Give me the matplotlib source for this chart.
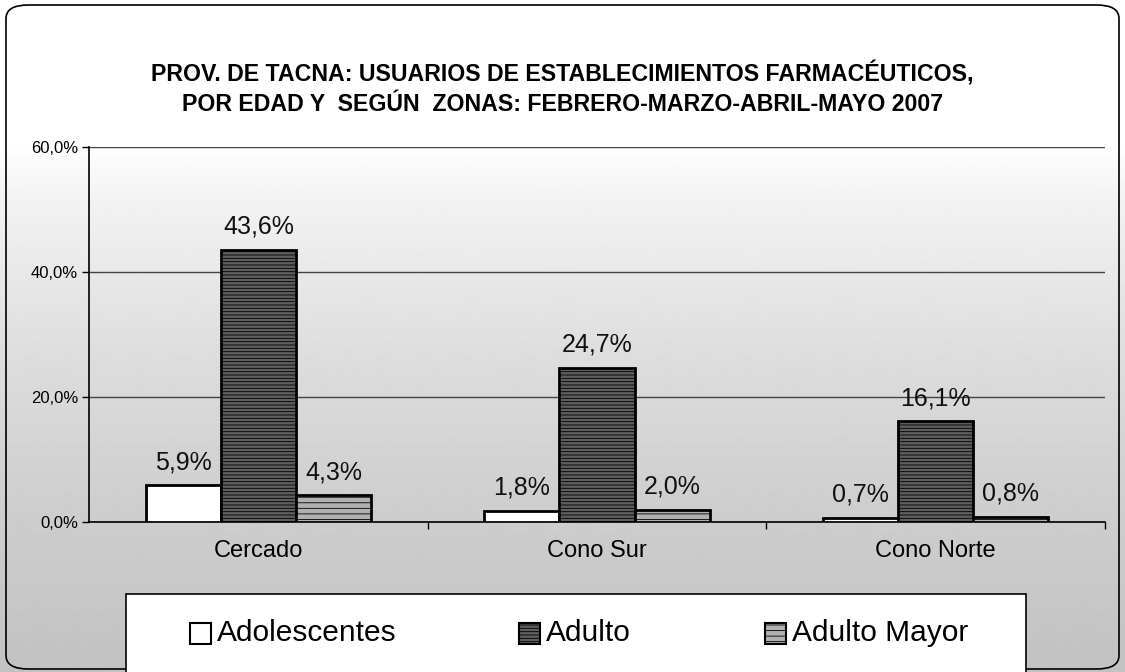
import matplotlib.pyplot as plt
import numpy as np
from matplotlib.patches import Rectangle, FancyBboxPatch
from matplotlib.ticker import FuncFormatter

plt.rcParams["font.family"] = ["Liberation Sans", "DejaVu Sans"]
plt.rcParams["hatch.linewidth"] = 0.6

zones = ["Cercado", "Cono Sur", "Cono Norte"]
series = ["Adolescentes", "Adulto", "Adulto Mayor"]
adolescentes = [5.9, 1.8, 0.7]
adulto = [43.6, 24.7, 16.1]
adulto_mayor = [4.3, 2.0, 0.8]
yticks = [0, 20, 40, 60]

title = ("PROV. DE TACNA: USUARIOS DE ESTABLECIMIENTOS FARMACÉUTICOS,\n"
         "POR EDAD Y  SEGÚN  ZONAS: FEBRERO-MARZO-ABRIL-MAYO 2007")

W, H = 1125, 672
fig = plt.figure(figsize=(W / 100, H / 100), dpi=100)

# stippled background -> light gray gradient getting darker towards bottom
bg = fig.add_axes([0, 0, 1, 1], zorder=-2)
rows = np.arange(H)
shade = np.interp(rows, [0, 140, 200, 350, 500, 672], [1.0, 1.0, 0.95, 0.87, 0.81, 0.76])
bg.imshow(np.tile(shade[:, None], (1, 4)), cmap="gray", vmin=0, vmax=1,
          aspect="auto", extent=[0, 1, 0, 1], interpolation="bilinear")
bg.set_xlim(0, 1)
bg.set_ylim(0, 1)
bg.axis("off")

# outer rounded frame
frame = FancyBboxPatch((6 / W, 3 / H), 1113 / W, 664 / H, boxstyle="round,pad=0,rounding_size=0.02",
                       transform=fig.transFigure, fill=False, edgecolor="black", linewidth=1.2)
fig.patches.append(frame)

fig.text(0.5, 1 - 89 / H, title, ha="center", va="center", fontsize=16.7,
         fontweight="bold", linespacing=1.35)

ax = fig.add_axes([89 / W, 1 - 522 / H, 1016 / W, 375 / H])
ax.set_facecolor("none")

x = np.arange(len(zones))
bw = 0.222
styles = [
    dict(color="white", hatch=None),
    dict(color="#5e5e5e", hatch="-----"),
    dict(color="#b0b0b0", hatch="---"),
]
for i, (vals, st) in enumerate(zip([adolescentes, adulto, adulto_mayor], styles)):
    bars = ax.bar(x + (i - 1) * bw, vals, bw, facecolor=st["color"], edgecolor="black",
                  linewidth=2, hatch=st["hatch"], zorder=3)
    ax.bar_label(bars, labels=[f"{v:.1f}%".replace(".", ",") for v in vals], padding=8,
                 fontsize=18, color="#111111")

ax.set_xlim(-0.5, 2.5)
ax.set_ylim(0, 60)
ax.set_yticks(yticks)
ax.yaxis.set_major_formatter(FuncFormatter(lambda v, p: f"{v:.1f}%".replace(".", ",")))
ax.tick_params(axis="y", labelsize=12, length=5, width=1, direction="out", pad=3)
ax.grid(axis="y", color="#444444", linewidth=1, zorder=1)
ax.set_axisbelow(True)

ax.set_xticks([0.5, 1.5, 2.5])
ax.set_xticklabels([])
ax.set_xticks(x, minor=True)
ax.set_xticklabels(zones, minor=True)
ax.tick_params(axis="x", which="major", length=5, width=1, direction="out")
ax.tick_params(axis="x", which="minor", length=0, labelsize=17, pad=13)

for s in ["top", "right"]:
    ax.spines[s].set_visible(False)
ax.spines["left"].set_linewidth(1.2)
ax.spines["bottom"].set_linewidth(1.2)

# legend box drawn like the Excel one (runs off the bottom edge)
fig.patches.append(Rectangle((126 / W, -0.01), 900 / W, 1 - 594 / H + 0.01, transform=fig.transFigure,
                             facecolor="white", edgecolor="black", linewidth=1.2, zorder=5))
leg_x = [190, 519, 765]
leg_y = 633
for px, name, st in zip(leg_x, series, styles):
    fig.patches.append(Rectangle((px / W, 1 - (leg_y + 11) / H), 21 / W, 21 / H,
                                 transform=fig.transFigure, facecolor=st["color"],
                                 edgecolor="black", linewidth=1.5, hatch=st["hatch"], zorder=6))
    fig.text((px + 27) / W, 1 - leg_y / H, name, ha="left", va="center", fontsize=21.5,
             zorder=6)

fig.savefig("out.png", dpi=100)
